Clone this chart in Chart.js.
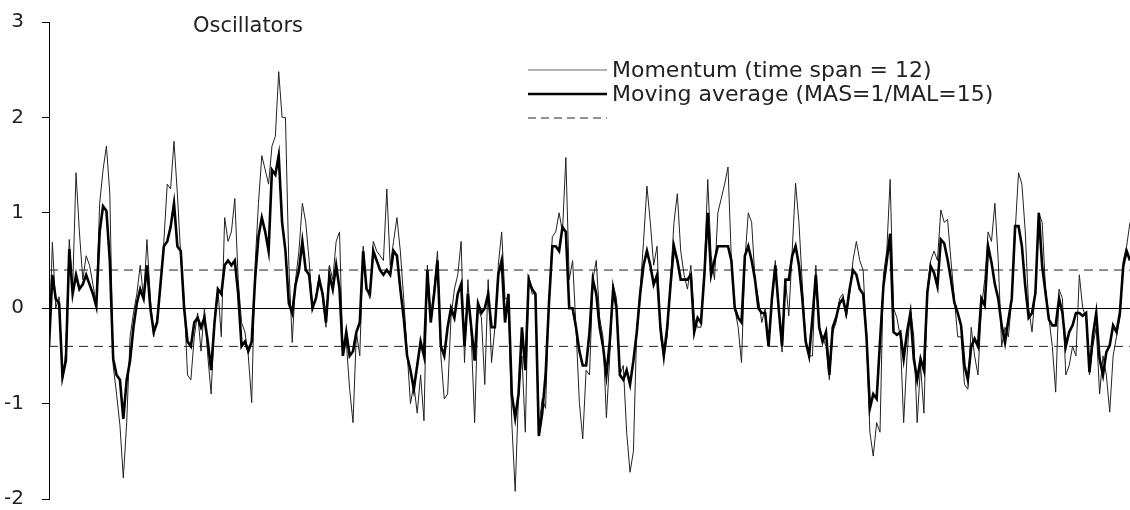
<!DOCTYPE html>
<html>
<head>
<meta charset="utf-8">
<title>Oscillators</title>
<script src="https://cdn.jsdelivr.net/npm/chart.js@4.4.0/dist/chart.umd.min.js"></script>
<style>
  html, body { margin: 0; padding: 0; background: #fff; }
  #wrap { position: relative; width: 1130px; height: 510px; }
</style>
</head>
<body>
<div id="wrap"><canvas id="osc" width="1130" height="510"></canvas></div>
<script>
// Momentum (time span = 12) left to right
const momentum = [
  -0.40, 0.69, 0.0, 0.12, -0.75, -0.45, 0.72, 0.2, 1.42, 0.8, 0.3, 0.55, 0.45, 0.25, 0.05, 1.1, 1.45, 1.7, 1.2, -0.6, -0.9, -1.23, -1.78, -1.2, -0.3, -0.05, 0.15, 0.45, 0.1, 0.72,
  0.1, -0.3, -0.1, 0.2, 0.7, 1.3, 1.25, 1.75, 1.2, 0.55, 0.1, -0.7, -0.75, -0.3, -0.05, -0.45, 0.0, -0.5, -0.9, -0.1, 0.2, -0.3, 0.95, 0.7, 0.8, 1.15, 0.3, -0.15, -0.25, -0.5, -0.99,
  0.45, 1.1, 1.6, 1.45, 1.3, 1.7, 1.8, 2.48, 2.0, 2.0, 0.45, -0.36, 0.3, 0.6, 1.1, 0.9, 0.5, 0.0, 0.1, 0.35, 0.1, -0.2, 0.45, 0.3, 0.7, 0.8, -0.5, -0.35, -0.85, -1.2, -0.25,
  -0.5, 0.65, 0.2, 0.1, 0.7, 0.6, 0.55, 0.5, 1.25, 0.45, 0.7, 0.95, 0.6, 0.1, -0.45, -1.0, -0.8, -1.1, -0.7, -1.18, 0.45, -0.1, 0.2, 0.6, -0.5, -0.95, -0.9, -0.1, 0.2, 0.35, 0.7,
  -0.57, 0.3, -0.3, -1.2, 0.0, -0.1, -0.8, 0.3, -0.57, -0.2, 0.45, 0.8, 0.1, 0.1, -1.2, -1.92, -0.9, -0.5, -1.3, 0.35, 0.15, 0.15, -1.25, -0.95, -1.05, 0.1, 0.75, 0.8, 1.0, 0.8, 1.58,
  0.3, 0.5, -0.2, -0.99, -1.37, -0.65, -0.7, 0.3, 0.5, -0.1, -0.3, -1.15, -0.5, 0.25, 0.1, -0.7, -0.6, -1.3, -1.72, -1.5, -0.2, 0.2, 0.7, 1.28, 0.9, 0.45, 0.65, -0.3, -0.5, -0.3, 0.3,
  0.9, 1.2, 0.6, 0.35, 0.2, 0.45, -0.1, -0.2, -0.2, 0.4, 1.35, 0.55, 0.3, 1.0, 1.15, 1.3, 1.48, 0.5, 0.0, -0.2, -0.57, 0.5, 1.0, 0.9, 0.3, 0.1, -0.15, 0.0, -0.4, 0.1, 0.5,
  0.0, -0.46, 0.3, -0.08, 0.6, 1.31, 0.9, 0.25, -0.35, -0.5, -0.5, 0.45, -0.2, -0.3, -0.4, -0.75, -0.25, -0.15, 0.1, 0.15, -0.1, 0.15, 0.5, 0.7, 0.5, 0.4, -0.3, -1.3, -1.55, -1.2, -1.3,
  0.35, 0.6, 1.35, 0.0, -0.1, -0.3, -1.2, -0.5, 0.0, -0.3, -1.2, -0.6, -1.1, 0.2, 0.5, 0.6, 0.5, 1.03, 0.9, 0.93, 0.5, 0.1, -0.3, -0.3, -0.8, -0.85, -0.2, -0.5, -0.7, 0.0, 0.3,
  0.8, 0.7, 1.1, 0.5, -0.4, -0.2, -0.3, 0.1, 0.8, 1.42, 1.3, 0.8, 0.0, -0.25, 0.2, 1.0, 0.9, 0.2, -0.1, -0.4, -0.88, 0.2, 0.1, -0.7, -0.6, -0.4, -0.5, 0.35, 0.0, -0.1, -0.7, -0.4, -0.2, -0.9, -0.5, -0.7, -1.09, -0.5, -0.3, -0.1, 0.5, 0.65, 0.9
];

// Moving average (MAS=1/MAL=15)
const movingAverage = [
  -0.40, 0.35, 0.1, 0.05, -0.72, -0.55, 0.62, 0.15, 0.35, 0.2, 0.25, 0.35, 0.25, 0.15, 0.02, 0.8, 1.07, 1.02, 0.5, -0.53, -0.7, -0.75, -1.16, -0.75, -0.55, -0.2, 0.05, 0.2, 0.1, 0.45,
  0.0, -0.25, -0.15, 0.25, 0.65, 0.7, 0.85, 1.1, 0.65, 0.6, 0.0, -0.35, -0.4, -0.15, -0.1, -0.2, -0.1, -0.35, -0.65, -0.15, 0.2, 0.15, 0.45, 0.5, 0.45, 0.5, 0.15, -0.4, -0.35, -0.45, -0.35,
  0.3, 0.75, 0.95, 0.8, 0.6, 1.45, 1.4, 1.6, 0.9, 0.6, 0.05, -0.05, 0.25, 0.4, 0.7, 0.4, 0.35, 0.0, 0.1, 0.3, 0.15, -0.15, 0.35, 0.2, 0.45, 0.2, -0.5, -0.25, -0.5, -0.45, -0.25,
  -0.15, 0.6, 0.2, 0.15, 0.6, 0.5, 0.4, 0.35, 0.4, 0.35, 0.6, 0.55, 0.2, -0.1, -0.5, -0.65, -0.85, -0.6, -0.35, -0.5, 0.4, -0.15, 0.15, 0.5, -0.4, -0.5, -0.2, 0.0, -0.1, 0.15, 0.25,
  -0.4, 0.15, -0.2, -0.55, 0.05, -0.05, 0.0, 0.15, -0.2, -0.2, 0.35, 0.5, -0.15, 0.15, -0.9, -1.15, -0.9, -0.2, -0.65, 0.3, 0.2, 0.15, -1.34, -1.1, -0.7, 0.05, 0.65, 0.65, 0.6, 0.85, 0.8,
  0.0, 0.0, -0.2, -0.45, -0.6, -0.6, -0.25, 0.3, 0.15, -0.2, -0.4, -0.7, -0.35, 0.2, 0.0, -0.7, -0.75, -0.65, -0.8, -0.55, -0.25, 0.15, 0.45, 0.6, 0.45, 0.25, 0.35, -0.2, -0.5, -0.2, 0.25,
  0.65, 0.5, 0.3, 0.3, 0.3, 0.35, -0.25, -0.1, -0.15, 0.35, 1.0, 0.35, 0.5, 0.65, 0.65, 0.65, 0.65, 0.5, 0.0, -0.1, -0.15, 0.55, 0.65, 0.5, 0.3, 0.0, -0.05, -0.05, -0.4, 0.1, 0.45,
  0.0, -0.4, 0.3, 0.3, 0.55, 0.65, 0.45, 0.1, -0.35, -0.5, -0.1, 0.35, -0.2, -0.35, -0.25, -0.7, -0.2, -0.1, 0.05, 0.1, -0.05, 0.2, 0.4, 0.35, 0.2, 0.15, -0.3, -1.05, -0.9, -0.95, -0.35,
  0.23, 0.5, 0.78, -0.25, -0.28, -0.25, -0.53, -0.25, -0.05, -0.53, -0.75, -0.53, -0.65, 0.16, 0.44, 0.37, 0.23, 0.72, 0.68, 0.51, 0.3, 0.06, -0.05, -0.18, -0.6, -0.75, -0.4, -0.32, -0.4, 0.1, 0.03,
  0.65, 0.48, 0.25, 0.1, -0.18, -0.36, -0.12, 0.1, 0.86, 0.86, 0.65, 0.23, -0.1, -0.05, 0.16, 1.0, 0.44, 0.16, -0.12, -0.18, -0.18, 0.1, -0.05, -0.4, -0.25, -0.18, -0.05, -0.05, -0.08, -0.05, -0.67, -0.29, -0.05, -0.53, -0.7, -0.46, -0.39, -0.18, -0.25, -0.05, 0.44, 0.6, 0.5
];

// Signal band and axis
const bandLevels = [0.4, -0.4];
const yTicks = [-2, -1, 0, 1, 2, 3];
const seriesLabels = ['Momentum (time span = 12)', 'Moving average (MAS=1/MAL=15)', ''];
const chartTitle = 'Oscillators';

const FONT = '"DejaVu Sans", sans-serif';
const lastIndex = Math.max(momentum.length, movingAverage.length) - 1;
const toPoints = arr => arr.map((v, i) => ({ x: i, y: v }));

// Title and legend drawn at fixed spots like the original print layout
const oscLegend = {
  id: 'oscLegend',
  afterDraw(chart) {
    const ctx = chart.ctx;
    ctx.save();
    ctx.fillStyle = '#222';
    ctx.textBaseline = 'middle';
    ctx.font = '21px ' + FONT;
    ctx.fillText(chartTitle, 193, 27);

    const rows = [
      { y: 70, color: '#666', width: 1, dash: [] },
      { y: 94, color: '#000', width: 2.6, dash: [] },
      { y: 118, color: '#222', width: 1, dash: [8, 5] }
    ];
    ctx.font = '22px ' + FONT;
    rows.forEach((r, i) => {
      ctx.beginPath();
      ctx.setLineDash(r.dash);
      ctx.strokeStyle = r.color;
      ctx.lineWidth = r.width;
      ctx.moveTo(528, r.y);
      ctx.lineTo(607, r.y);
      ctx.stroke();
      if (seriesLabels[i]) ctx.fillText(seriesLabels[i], 612, r.y + 1);
    });
    ctx.restore();
  }
};

const bandSets = bandLevels.map(level => ({
  label: 'band ' + level,
  data: [{ x: 0, y: level }, { x: lastIndex, y: level }],
  borderColor: '#222',
  borderWidth: 1,
  borderDash: [9, 6],
  order: 3
}));

new Chart(document.getElementById('osc'), {
  type: 'line',
  data: {
    datasets: [
      ...bandSets,
      {
        label: seriesLabels[0],
        data: toPoints(momentum),
        borderColor: '#222',
        borderWidth: 1,
        order: 2
      },
      {
        label: seriesLabels[1],
        data: toPoints(movingAverage),
        borderColor: '#000',
        borderWidth: 2.6,
        order: 1
      }
    ]
  },
  options: {
    responsive: false,
    animation: false,
    elements: {
      point: { radius: 0 },
      line: { tension: 0, fill: false, borderJoinStyle: 'miter' }
    },
    layout: { padding: { top: 22, bottom: 11, left: 0, right: 0 } },
    plugins: {
      legend: { display: false },
      tooltip: { enabled: false }
    },
    scales: {
      x: {
        type: 'linear',
        display: false,
        min: 0,
        max: lastIndex
      },
      y: {
        min: -2,
        max: 3,
        afterBuildTicks: scale => { scale.ticks = yTicks.map(v => ({ value: v })); },
        afterFit: scale => {
          // fixed axis gutter, and no extra room above/below for labels
          scale.width = 49;
          scale.paddingTop = 0;
          scale.paddingBottom = 0;
        },
        ticks: {
          color: '#222',
          padding: 18,
          font: { family: FONT, size: 20 }
        },
        grid: {
          drawOnChartArea: true,
          color: ctx => (ctx.tick && ctx.tick.value === 0 ? '#000' : 'rgba(0,0,0,0)'),
          tickColor: '#000',
          tickLength: 7,
          lineWidth: 1
        },
        border: { color: '#000', width: 1 }
      }
    }
  },
  plugins: [oscLegend]
});
</script>
</body>
</html>
